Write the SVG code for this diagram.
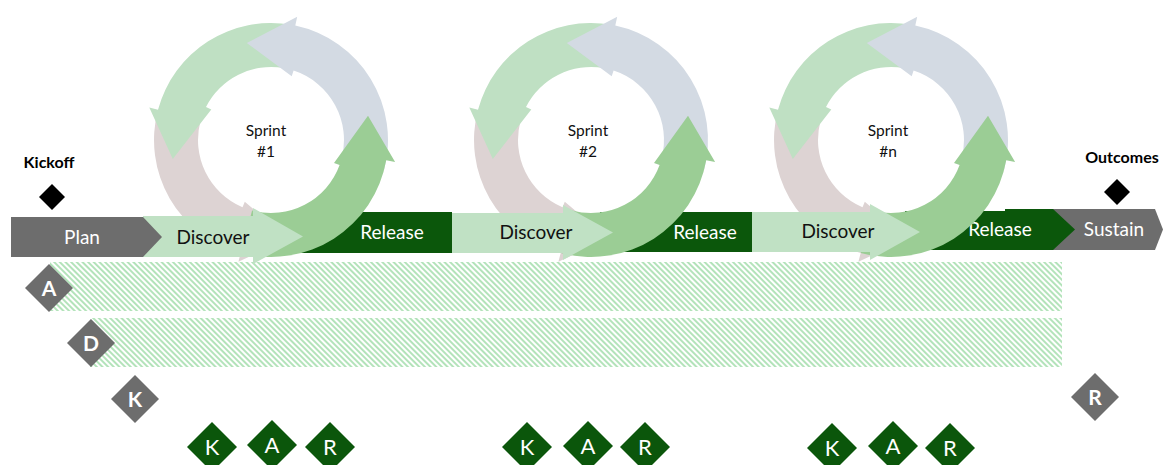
<svg xmlns="http://www.w3.org/2000/svg" xmlns:xlink="http://www.w3.org/1999/xlink" width="1163" height="465" viewBox="0 0 1163 465">
<style>
.t{font-family:Lato,"Open Sans","Liberation Sans",sans-serif;text-anchor:middle}
.bar{font-size:19px}
.w{fill:#ffffff}
.k{fill:#111111}
.sp{font-size:15.5px;fill:#111111}
.lbl{font-size:16px;font-weight:bold;fill:#000000}
.gd{fill:#6d6d6d}
.dd{fill:#0b560b}
.gl{font-size:21px;font-weight:bold;fill:#ffffff}
.dl{font-size:22px;fill:#ffffff}
.rel{fill:#0b570b}
.dis{fill:#c0e1c4}
.gray{fill:#6d6d6d}
</style>
<defs>
<pattern id="hatch" width="4" height="4" patternUnits="userSpaceOnUse" patternTransform="rotate(-45)">
<rect width="2" height="4" fill="#b3e3ba"/>
</pattern>
<g id="cycle">
<path fill="#ddd3d3" d="M -113.0 -30.3 A 117 117 0 0 0 -30.3 113.0 L -32.6 121.7 L 17.4 98.5 L -26.2 61.7 L -28.5 67.2 A 73 73 0 0 1 -70.5 -18.9 Z"/>
<path fill="#bfe0c3" d="M 20.3 -115.2 A 117 117 0 0 0 -113.0 -30.3 L -121.7 -32.6 L -98.2 19.1 L -59.7 -30.4 L -65.0 -33.1 A 73 73 0 0 1 12.7 -71.9 Z"/>
<path fill="#d3dae3" d="M 113.0 30.3 A 117 117 0 0 0 24.3 -114.4 L 26.2 -123.2 L -24.2 -97.0 L 20.7 -63.7 L 22.6 -69.4 A 73 73 0 0 1 70.5 18.9 Z"/>
<path fill="#9bcd95" d="M -30.3 113.0 A 117 117 0 0 0 115.2 20.3 L 124.1 21.9 L 97.0 -24.2 L 63.0 22.9 L 68.6 25.0 A 73 73 0 0 1 -18.9 70.5 Z"/>
</g>
</defs>
<rect width="1163" height="465" fill="#ffffff"/>

<g id="bands">
<rect x="50" y="262" width="1012" height="49" fill="url(#hatch)"/>
<rect x="90" y="318" width="972" height="49" fill="url(#hatch)"/>
</g>

<g id="release1"><rect class="rel" x="290" y="212" width="162" height="41"/><text class="t bar w" x="392" y="239">Release</text></g>
<g id="release2"><rect class="rel" x="600" y="212" width="152" height="40"/><text class="t bar w" x="705" y="239">Release</text></g>
<g id="sustain"><path class="gray" d="M1048 209 L1155 209 L1163 229.5 L1155 250 L1048 250 Z"/><text class="t bar w" x="1114" y="236">Sustain</text></g>
<g id="release3"><path class="rel" d="M905 211 L1005 211 L1005 209 L1053 209 L1075 229.5 L1053 250 L905 250 Z"/><text class="t bar w" x="1000" y="236">Release</text></g>

<g id="sprint1"><use xlink:href="#cycle" transform="translate(271,140)"/><text class="t sp" x="266" y="136">Sprint</text><text class="t sp" x="266" y="157">#1</text></g>
<g id="sprint2"><use xlink:href="#cycle" transform="translate(591,140)"/><text class="t sp" x="588" y="136">Sprint</text><text class="t sp" x="588" y="157">#2</text></g>
<g id="sprint3"><use xlink:href="#cycle" transform="translate(891,140)"/><text class="t sp" x="888" y="136">Sprint</text><text class="t sp" x="888" y="157">#n</text></g>

<g id="discover1"><path class="dis" d="M143 216 L253 216 L253 208 L303 236.5 L253 264 L253 257 L143 257 Z"/><text class="t bar k" x="213" y="244">Discover</text></g>
<g id="discover2"><path class="dis" d="M452 213 L563 213 L563 205 L613 232.5 L563 260 L563 253 L452 253 Z"/><text class="t bar k" x="536" y="239">Discover</text></g>
<g id="discover3"><path class="dis" d="M752 212 L870 212 L870 204 L920 232 L870 260 L870 252 L752 252 Z"/><text class="t bar k" x="838" y="238">Discover</text></g>

<g id="plan"><path class="gray" d="M11 217 L143 217 L162 237 L143 257 L11 257 Z"/><text class="t bar w" x="82" y="244">Plan</text></g>

<g id="kickoff"><text class="t lbl" x="49" y="168">Kickoff</text><path fill="#000" d="M52 184 L65 197 L52 210 L39 197 Z"/></g>
<g id="outcomes"><text class="t lbl" x="1122" y="163">Outcomes</text><path fill="#000" d="M1117 179 L1130 192 L1117 205 L1104 192 Z"/></g>

<g id="diamondA"><path class="gd" d="M49 264 L73 288 L49 312 L25 288 Z"/><text class="t gl" x="49" y="295.5">A</text></g>
<g id="diamondD"><path class="gd" d="M91 319 L115 343 L91 367 L67 343 Z"/><text class="t gl" x="91" y="350.5">D</text></g>
<g id="diamondK"><path class="gd" d="M135 375 L159 399 L135 423 L111 399 Z"/><text class="t gl" x="135" y="406.5">K</text></g>
<g id="diamondR"><path class="gd" d="M1095 373 L1119 397 L1095 421 L1071 397 Z"/><text class="t gl" x="1095" y="404.5">R</text></g>

<g id="kar1">
<path class="dd" d="M212 422 L237 447 L212 472 L187 447 Z"/><text class="t dl" x="212" y="455">K</text>
<path class="dd" d="M272 420 L297 445 L272 470 L247 445 Z"/><text class="t dl" x="272" y="453">A</text>
<path class="dd" d="M330 422 L355 447 L330 472 L305 447 Z"/><text class="t dl" x="330" y="455">R</text>
</g>
<g id="kar2">
<path class="dd" d="M527 422 L552 447 L527 472 L502 447 Z"/><text class="t dl" x="527" y="455">K</text>
<path class="dd" d="M588 421 L613 446 L588 471 L563 446 Z"/><text class="t dl" x="588" y="454">A</text>
<path class="dd" d="M645 422 L670 447 L645 472 L620 447 Z"/><text class="t dl" x="645" y="455">R</text>
</g>
<g id="kar3">
<path class="dd" d="M832 423 L857 448 L832 473 L807 448 Z"/><text class="t dl" x="832" y="456">K</text>
<path class="dd" d="M893 421 L918 446 L893 471 L868 446 Z"/><text class="t dl" x="893" y="454">A</text>
<path class="dd" d="M950 423 L975 448 L950 473 L925 448 Z"/><text class="t dl" x="950" y="456">R</text>
</g>
</svg>
